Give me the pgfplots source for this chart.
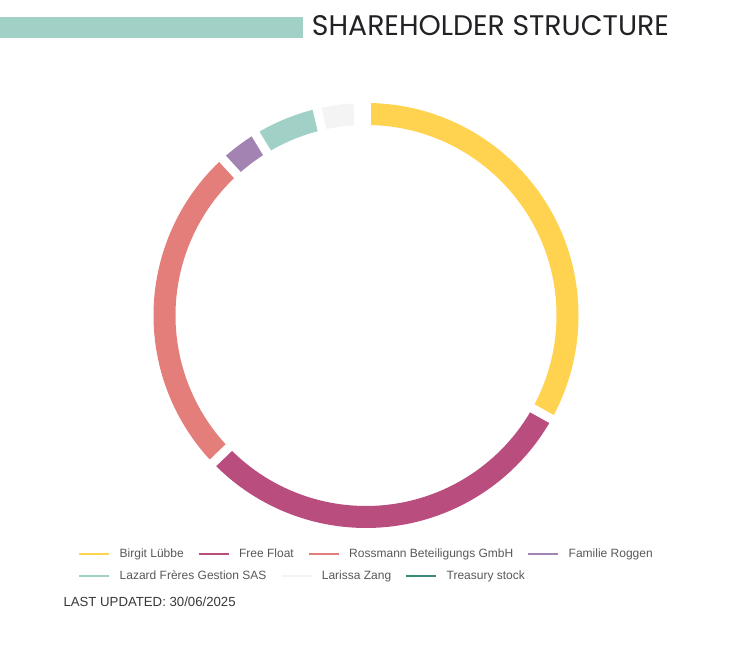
\documentclass[border=0pt]{standalone}
\usepackage{fontspec}
\setmainfont{Liberation Sans}
\newfontfamily\titlefont{Poppins}
\usepackage{graphicx}
\usepackage{pgfplots}
\usepackage{pgfplotstable}
\pgfplotsset{compat=1.18}

\definecolor{cLuebbe}{RGB}{255,211,80}
\definecolor{cFloat}{RGB}{185,78,126}
\definecolor{cRossmann}{RGB}{228,126,123}
\definecolor{cRoggen}{RGB}{162,131,177}
\definecolor{cLazard}{RGB}{160,208,198}
\definecolor{cZang}{RGB}{244,244,244}
\definecolor{cTreasury}{RGB}{62,138,122}
\definecolor{legendgray}{RGB}{88,88,88}
\definecolor{titleblack}{RGB}{34,34,38}

% shares in %, clockwise from 12 o'clock
\pgfplotstableread{
share colour
33.1  cLuebbe
29.7  cFloat
25.4  cRossmann
3.1   cRoggen
5.0   cLazard
3.1   cZang
0.6   cTreasury
}\shares

\pgfplotsset{
  page/.style={x=1pt, y=1pt, xmin=0, xmax=732, ymin=0, ymax=647,
    hide axis, clip=false},
  flat legend/.style={
    legend columns=-1,
    legend image code/.code={\draw[##1, line width=2.2pt] (0pt,0pt) -- (30pt,0pt);},
    legend style={draw=none, fill=none, inner sep=0pt, outer sep=0pt,
      font=\fontsize{12}{14}\selectfont, text=legendgray,
      cells={anchor=west}, nodes={inner sep=0pt},
      /tikz/every odd column/.style={column sep=9.2pt},
      /tikz/every even column/.style={column sep=14pt}},
  },
}

\begin{document}
\begin{tikzpicture}
\begin{axis}[page, flat legend,
    legend style={at={(0.1070,0.1433)}, anchor=west}]
  \path (axis cs:0,0) rectangle (axis cs:732,647);

  % header
  \fill[cLazard] (axis cs:0,608.7) rectangle (axis cs:302.7,630.3);
  \node[anchor=base west, inner sep=0pt, text=titleblack] at (axis cs:311.7,611.3)
    {\resizebox{357pt}{20pt}{\titlefont SHAREHOLDER STRUCTURE}};

  % donut ring: segments first
  \pgfplotstablegetrowsof{\shares}
  \pgfmathtruncatemacro\lastrow{\pgfplotsretval-1}
  \def\cum{0}
  \pgfplotsforeachungrouped \i in {0,...,\lastrow}{%
    \pgfplotstablegetelem{\i}{share}\of\shares \let\val\pgfplotsretval
    \pgfplotstablegetelem{\i}{colour}\of\shares \let\col\pgfplotsretval
    \pgfmathsetmacro\aS{90-3.6*\cum}
    \pgfmathsetmacro\cum{\cum+\val}
    \pgfmathsetmacro\aE{90-3.6*\cum}
    \edef\doarc{\noexpand\draw[line width=22pt, \col]
      ([shift={(\aS:201.5pt)}]axis cs:366,331.5)
      arc[start angle=\aS, end angle=\aE, radius=201.5pt];}
    \doarc
  }
  % then the white borders between them
  \def\cum{0}
  \pgfplotsforeachungrouped \i in {0,...,\lastrow}{%
    \pgfplotstablegetelem{\i}{share}\of\shares \let\val\pgfplotsretval
    \pgfmathsetmacro\aS{90-3.6*\cum}
    \pgfmathsetmacro\cum{\cum+\val}
    \edef\dogap{\noexpand\draw[white, line width=9pt]
      ([shift={(\aS:186pt)}]axis cs:366,331.5) --
      ([shift={(\aS:217pt)}]axis cs:366,331.5);}
    \dogap
  }

  \addlegendimage{cLuebbe}
  \addlegendimage{cFloat}
  \addlegendimage{cRossmann}
  \addlegendimage{cRoggen}
  \legend{Birgit Lübbe, Free Float, Rossmann Beteiligungs GmbH, Familie Roggen}

  \node[anchor=base west, inner sep=0pt, text=titleblack!90,
    font=\fontsize{13.2}{15}\selectfont] at (axis cs:63.3,40.3)
    {LAST UPDATED: 30/06/2025};
\end{axis}

\begin{axis}[page, flat legend,
    legend style={at={(0.1070,0.1102)}, anchor=west}]
  \addlegendimage{cLazard}
  \addlegendimage{cZang}
  \addlegendimage{cTreasury}
  \legend{Lazard Frères Gestion SAS, Larissa Zang, Treasury stock}
\end{axis}
\end{tikzpicture}
\end{document}
